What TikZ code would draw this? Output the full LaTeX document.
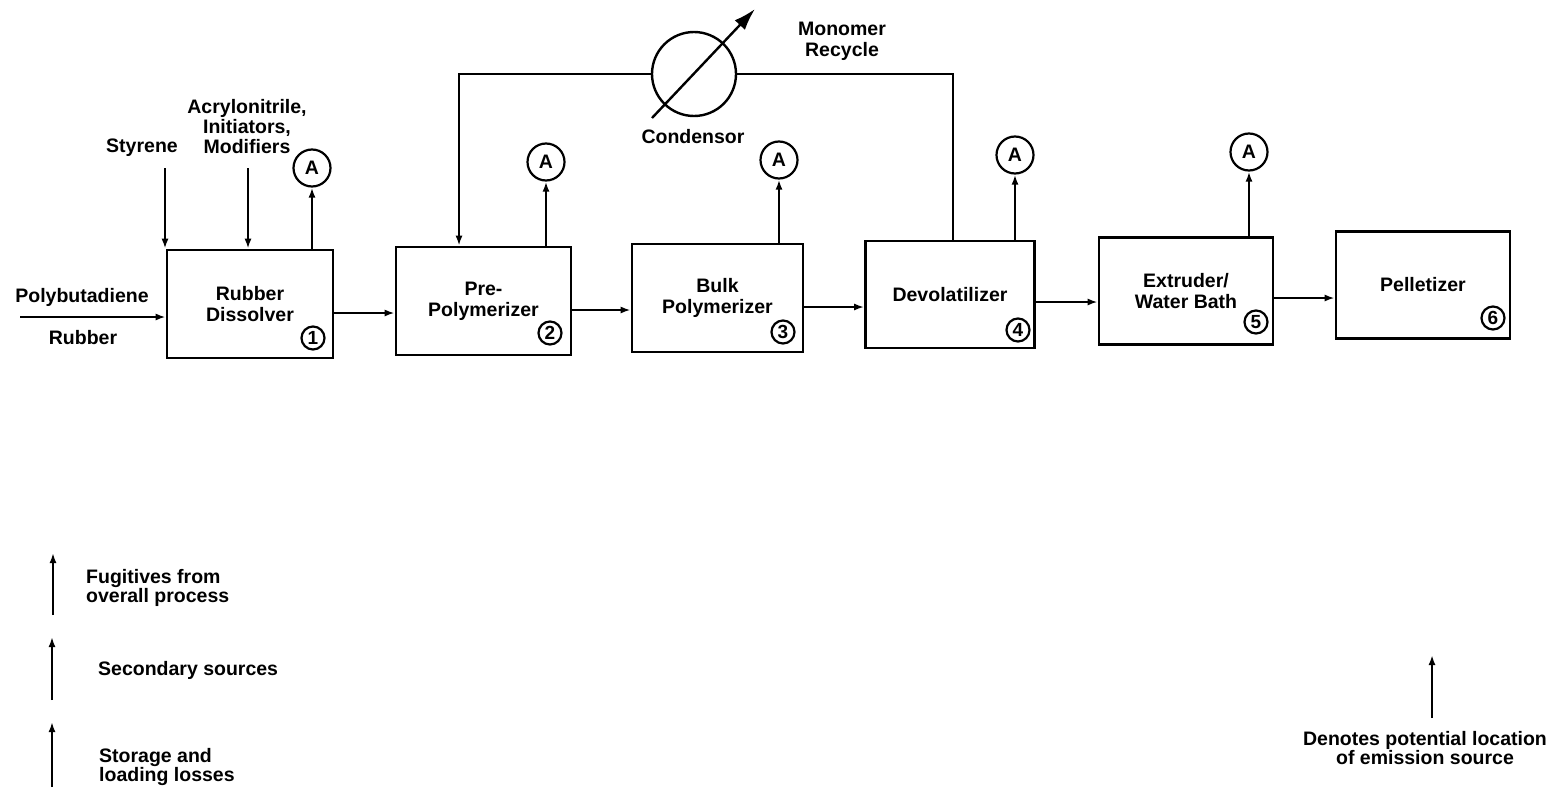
\documentclass[tikz,border=0pt]{standalone}
\usepackage{fontspec}
\setmainfont{Liberation Sans}
\usetikzlibrary{arrows.meta}
\begin{document}
\begin{tikzpicture}[x=1pt,y=-1pt,
  font=\bfseries\fontsize{19.5}{21}\selectfont,
  proc/.style={draw,line width=2.6pt,align=center,inner sep=0pt},
  acirc/.style={draw,circle,line width=2.2pt,minimum size=37pt,inner sep=0pt,font=\bfseries\fontsize{19.5}{20}\selectfont},
  ncirc/.style={draw,circle,line width=2.2pt,minimum size=23pt,inner sep=0pt,font=\bfseries\fontsize{19}{20}\selectfont},
  flow/.style={line width=2pt,-{Latex[length=10pt,width=7pt]}},
  pipe/.style={line width=2pt},
  lbl/.style={align=center,inner sep=0pt}]
\useasboundingbox[fill=white] (0,0) rectangle (1566,792);

% process boxes
\node[proc,minimum width=166pt,minimum height=108pt] (b1) at (250,304) {Rubber\\Dissolver};
\node[proc,minimum width=175pt,minimum height=108pt] (b2) at (483.5,301) {Pre-\\Polymerizer};
\node[proc,minimum width=171pt,minimum height=108pt] (b3) at (717.5,298) {Bulk\\Polymerizer};
\node[proc,minimum width=169pt,minimum height=107pt] (b4) at (950,294.5) {Devolatilizer};
\node[proc,minimum width=174pt,minimum height=107pt] (b5) at (1186,291) {Extruder/\\Water Bath};
\node[proc,minimum width=174pt,minimum height=107pt] (b6) at (1423,285) {Pelletizer};

% number circles
\node[ncirc] (n1) at (313,338) {1};
\node[ncirc] (n2) at (550,333) {2};
\node[ncirc] (n3) at (783,332) {3};
\node[ncirc] (n4) at (1018,330) {4};
\node[ncirc] (n5) at (1256,322) {5};
\node[ncirc] (n6) at (1493,318) {6};

% emission circles
\node[acirc] (a1) at (312,168) {A};
\node[acirc] (a2) at (546,162) {A};
\node[acirc] (a3) at (779,160) {A};
\node[acirc] (a4) at (1015,155) {A};
\node[acirc] (a5) at (1249,152) {A};
\foreach \i in {1,...,5}{\draw[flow] (b\i.north -| a\i) -- (a\i.south);}

% flows between boxes
\path ([yshift=-9pt]b1.east) coordinate (s1)
      ([yshift=-9pt]b2.east) coordinate (s2)
      ([yshift=-9pt]b3.east) coordinate (s3)
      ([yshift=-7.5pt]b4.east) coordinate (s4)
      ([yshift=-7pt]b5.east) coordinate (s5);
\draw[flow] (s1) -- (s1 -| b2.west);
\draw[flow] (s2) -- (s2 -| b3.west);
\draw[flow] (s3) -- (s3 -| b4.west);
\draw[flow] (s4) -- (s4 -| b5.west);
\draw[flow] (s5) -- (s5 -| b6.west);

% feeds
\coordinate (pin) at (20,317);
\draw[flow] (pin) -- (pin -| b1.west);
\node[lbl] (tpoly) at (82,297) {Polybutadiene};
\node[lbl] (trub) at (83,338) {Rubber};
\node[lbl] (tsty) at (142,148) {Styrene};
\coordinate (sty) at (165,168);
\draw[flow] (sty) -- (sty |- b1.north);
\node[lbl] (tacr) at (247,127) {Acrylonitrile,\\[-1pt]Initiators,\\[-1pt]Modifiers};
\coordinate (acr) at (248,168);
\draw[flow] (acr) -- (acr |- b1.north);

% condenser and recycle
\node[draw,circle,line width=2.4pt,minimum size=84pt,inner sep=0pt] (cond) at (694,74) {};
\draw[pipe] ([xshift=3pt]b4.north) |- (cond.east);
\draw[flow] (cond.west) -| ([xshift=-24.5pt]b2.north);
\draw[line width=2.4pt,-{Latex[length=22pt,width=14pt]}] ([shift={(-42,44)}]cond.center) -- ([shift={(61,-65)}]cond.center);
\node[lbl] (tcond) at (693,137) {Condensor};
\node[lbl] (tmon) at (842,41) {Monomer\\Recycle};

% legend
\coordinate (l1) at (53,615);
\draw[flow] (l1) -- (53,553);
\node[lbl,align=left,anchor=west] (tl1) at (86,588) {Fugitives from\\[-2pt]overall process};
\coordinate (l2) at (52,700);
\draw[flow] (l2) -- (52,637);
\node[lbl,anchor=west] (tl2) at (98,670) {Secondary sources};
\coordinate (l3) at (52,787);
\draw[flow] (l3) -- (52,722);
\node[lbl,align=left,anchor=west] (tl3) at (99,767) {Storage and\\[-2pt]loading losses};
\coordinate (l4) at (1432,718);
\draw[flow] (l4) -- (1432,655);
\node[lbl] (tl4) at (1425,748) {Denotes potential location\\[-2pt]of emission source};
\end{tikzpicture}
\end{document}
